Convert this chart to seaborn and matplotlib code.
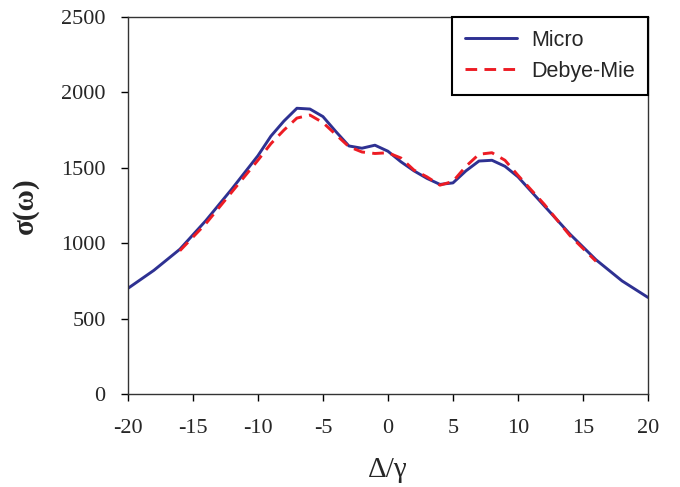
import numpy as np
import pandas as pd
import matplotlib
matplotlib.use("Agg")
import matplotlib.pyplot as plt
import seaborn as sns

# Micro curve
micro_x = [-20, -18, -16, -14, -12, -10, -9, -8, -7, -6, -5, -4, -3, -2, -1, 0,
           1, 2, 3, 4, 5, 6, 7, 8, 9, 10, 12, 14, 16, 18, 20]
micro_y = [700, 820, 960, 1150, 1360, 1580, 1710, 1810, 1895, 1890, 1840, 1740,
           1645, 1630, 1650, 1610, 1540, 1480, 1430, 1390, 1400, 1480, 1545, 1550,
           1510, 1440, 1250, 1060, 890, 750, 640]

# Debye-Mie curve
mie_x = [-16, -14, -12, -10, -9, -8, -7, -6, -5, -4, -3, -2, -1, 0, 1, 2, 3, 4,
         5, 6, 7, 8, 9, 10, 12, 14, 16]
mie_y = [950, 1130, 1340, 1550, 1660, 1750, 1830, 1850, 1800, 1720, 1640, 1605,
         1595, 1600, 1565, 1485, 1440, 1385, 1410, 1510, 1590, 1600, 1550, 1450,
         1260, 1050, 880]

x_ticks = [-20, -15, -10, -5, 0, 5, 10, 15, 20]
y_ticks = [0, 500, 1000, 1500, 2000, 2500]

df_micro = pd.DataFrame({"x": micro_x, "y": micro_y})
df_mie = pd.DataFrame({"x": mie_x, "y": mie_y})

sns.set_style("ticks")
plt.rcParams["font.family"] = ["Liberation Serif", "DejaVu Serif"]

fig = plt.figure(figsize=(6.8, 4.87), dpi=100)
ax = fig.add_axes([0.188, 0.191, 0.765, 0.774])

sns.lineplot(data=df_micro, x="x", y="y", ax=ax, color="#2E3192", lw=2.1,
             label="Micro")
sns.lineplot(data=df_mie, x="x", y="y", ax=ax, color="#ED1C24", lw=2.1,
             linestyle=(0, (4, 2.5)), label="Debye-Mie")

ax.set_xlim(-20, 20)
ax.set_ylim(0, 2500)
ax.set_xticks(x_ticks)
ax.set_yticks(y_ticks)
ax.set_xticklabels([str(t) for t in x_ticks])
ax.tick_params(axis="both", direction="out", length=5, width=1, labelsize=16,
               color="black")
ax.tick_params(axis="x", pad=13)
ax.tick_params(axis="y", pad=11)
for s in ax.spines.values():
    s.set_color("#333333")
    s.set_linewidth(1)

ax.set_xlabel("Δ/γ", fontsize=21, labelpad=14)
ax.set_ylabel("σ(ω)", fontsize=21, fontweight="bold", labelpad=16)

leg = ax.legend(loc="upper right", bbox_to_anchor=(1.0, 1.0), borderaxespad=0,
                frameon=True, fancybox=False, handlelength=2.45,
                prop={"family": "Liberation Sans", "size": 15.5},
                borderpad=0.6, labelspacing=0.45, handletextpad=0.65)
leg.get_frame().set_edgecolor("black")
leg.get_frame().set_linewidth(1.5)
leg.get_frame().set_alpha(1)

fig.savefig("out.png", dpi=100)
